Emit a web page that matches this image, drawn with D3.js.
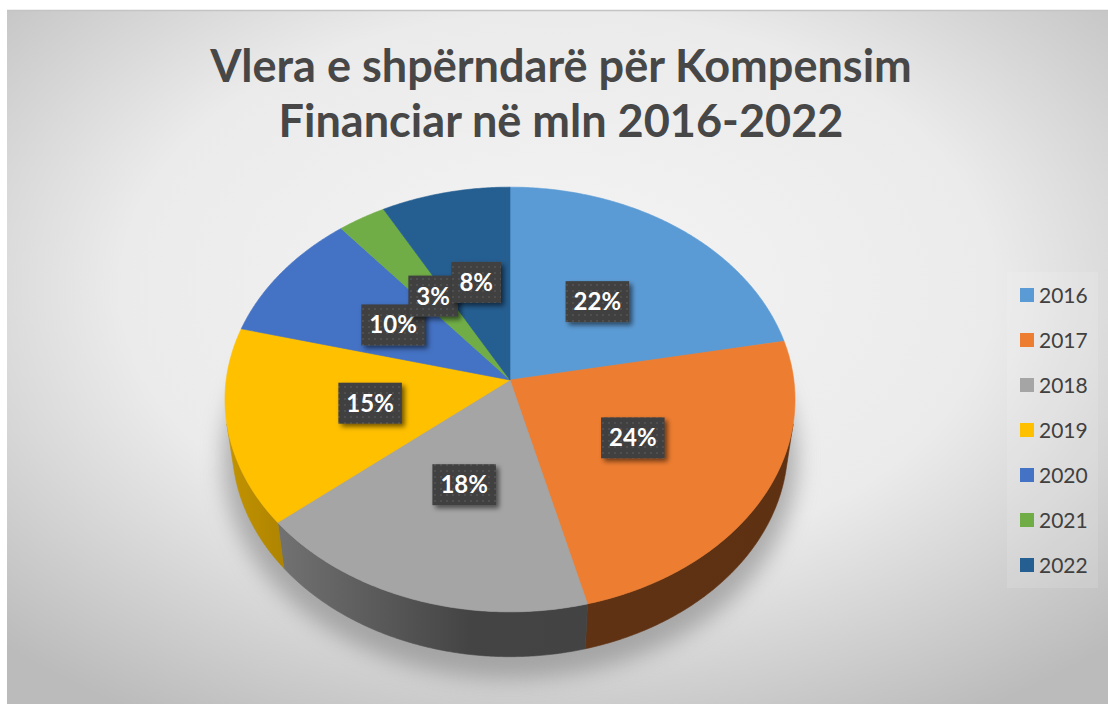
<!DOCTYPE html>
<html><head><meta charset="utf-8">
<script src="https://cdn.jsdelivr.net/npm/d3@7"></script>
<style>html,body{margin:0;padding:0;background:#fff;overflow:hidden}</style>
</head>
<body>
<svg id="c" width="1108" height="704"></svg>
<script>
const titleLines = ["Vlera e shpërndarë për Kompensim", "Financiar në mln 2016-2022"];
const years = ["2016", "2017", "2018", "2019", "2020", "2021", "2022"];
const shares = [22, 24, 18, 15, 10, 3, 8];
const labels = ["22%", "24%", "18%", "15%", "10%", "3%", "8%"];
const colors = ["#5B9BD5", "#ED7D31", "#A5A5A5", "#FFC000", "#4472C4", "#70AD47", "#255E91"];

const svg = d3.select("#c");
const defs = svg.append("defs");

// background
const bg = defs.append("radialGradient").attr("id", "bg")
  .attr("cx", "50%").attr("cy", "40%").attr("r", "72%");
bg.append("stop").attr("offset", "0").attr("stop-color", "#f4f4f4");
bg.append("stop").attr("offset", "0.55").attr("stop-color", "#ebebeb");
bg.append("stop").attr("offset", "1").attr("stop-color", "#bbbbbb");
svg.append("rect").attr("x", 7).attr("y", 10).attr("width", 1101).attr("height", 694)
  .attr("fill", "url(#bg)");
svg.append("line").attr("x1", 7).attr("x2", 1108).attr("y1", 10.5).attr("y2", 10.5)
  .attr("stroke", "#c4c4c4").attr("stroke-width", 1.5);

// filters
const blur = defs.append("filter").attr("id", "blur").attr("x", "-30%").attr("y", "-30%").attr("width", "160%").attr("height", "160%");
blur.append("feGaussianBlur").attr("stdDeviation", 11);
const ds = defs.append("filter").attr("id", "ds").attr("x", "-30%").attr("y", "-30%").attr("width", "170%").attr("height", "170%");
ds.append("feDropShadow").attr("dx", 3).attr("dy", 3).attr("stdDeviation", 2.5)
  .attr("flood-color", "#000").attr("flood-opacity", 0.55);
const pat = defs.append("pattern").attr("id", "dots").attr("patternUnits", "userSpaceOnUse")
  .attr("width", 6).attr("height", 6);
pat.append("rect").attr("width", 6).attr("height", 6).attr("fill", "#3f3f3f");
pat.append("circle").attr("cx", 3).attr("cy", 3).attr("r", 0.9).attr("fill", "#575757");

// 3D perspective projection of the pie
const cx = 510, cy = 380, K = 283.8, sinP = 0.742, cosP = Math.sqrt(1 - sinP * sinP), dd = 7.3, hh = 0.251;
function proj(theta, rr, y) {
  const x = rr * Math.sin(theta), z = rr * Math.cos(theta);
  const den = 1 - y * sinP / dd + z * cosP / dd;
  return [cx + K * x / den, cy - K * (y * cosP + z * sinP) / den];
}
function arcPts(a0, a1, rr, y) {
  const n = Math.max(2, Math.ceil(Math.abs(a1 - a0) / (Math.PI / 360)));
  return d3.range(n + 1).map(i => proj(a0 + (a1 - a0) * i / n, rr, y));
}
const line = d3.line();

const pie = d3.pie().sort(null).value(d => d).startAngle(0).endAngle(2 * Math.PI);
const arcs = pie(shares);

// shadow
const shadowG = svg.append("g").attr("filter", "url(#blur)").attr("opacity", 0.55);
shadowG.append("path")
  .attr("d", line(arcPts(0, 2 * Math.PI, 1.035, -hh - 0.03)) + "Z")
  .attr("transform", "translate(0,8)")
  .attr("fill", "#7a7a7a");

// side faces (visible front part)
const thS = Math.acos(-1 / (dd * cosP)), thE = 2 * Math.PI - thS;
const darkStops = [[215, 0.7], [290, 1.1], [470, 2.5], [810, 2.6]];
arcs.forEach((a, i) => {
  const s = Math.max(a.startAngle, thS), e = Math.min(a.endAngle, thE);
  if (e <= s) return;
  const g = defs.append("linearGradient").attr("id", "side" + i)
    .attr("gradientUnits", "userSpaceOnUse").attr("x1", 215).attr("x2", 810).attr("y1", 0).attr("y2", 0);
  darkStops.forEach(([x, k]) => g.append("stop").attr("offset", (x - 215) / (810 - 215))
    .attr("stop-color", d3.color(colors[i]).darker(k).formatHex()));
  const top = arcPts(s, e, 1, 0), bot = arcPts(s, e, 1, -hh).reverse();
  svg.append("path").attr("d", line(top.concat(bot)) + "Z")
    .attr("fill", `url(#side${i})`).attr("stroke", `url(#side${i})`).attr("stroke-width", 0.6);
});

// top faces
arcs.forEach((a, i) => {
  const pts = [proj(0, 0, 0)].concat(arcPts(a.startAngle, a.endAngle, 1, 0));
  svg.append("path").attr("d", line(pts) + "Z")
    .attr("fill", colors[i]).attr("stroke", colors[i]).attr("stroke-width", 0.6);
});

// data labels
arcs.forEach((a, i) => {
  const [lx, ly] = proj((a.startAngle + a.endAngle) / 2, 0.5, 0);
  const g = svg.append("g");
  const t = g.append("text").attr("x", lx).attr("y", ly + 8.5).attr("text-anchor", "middle")
    .attr("font-family", "Lato, 'Open Sans', sans-serif").attr("font-weight", 700)
    .attr("font-size", 24).attr("fill", "#ffffff").text(labels[i]);
  const w = t.node().getComputedTextLength() + 16, h = 41;
  g.insert("rect", "text").attr("x", lx - w / 2).attr("y", ly - h / 2).attr("width", w).attr("height", h)
    .attr("fill", "url(#dots)").attr("filter", "url(#ds)");
});

// legend
svg.append("rect").attr("x", 1007).attr("y", 272).attr("width", 91).attr("height", 316)
  .attr("fill", "#ffffff").attr("opacity", 0.12);
years.forEach((yv, i) => {
  const yy = 295 + i * 45;
  svg.append("rect").attr("x", 1020).attr("y", yy - 7).attr("width", 14).attr("height", 14).attr("fill", colors[i]);
  svg.append("text").attr("x", 1039).attr("y", yy + 7.5)
    .attr("font-family", "Lato, 'Open Sans', sans-serif").attr("font-size", 21)
    .attr("fill", "#404040").text(yv);
});

// title
const tt = svg.append("text").attr("text-anchor", "middle")
  .attr("font-family", "Lato, 'Open Sans', sans-serif").attr("font-weight", 700)
  .attr("fill", "#474747").attr("font-size", 40);
const t1 = tt.append("tspan").attr("x", 561).attr("y", 82).text(titleLines[0]);
const t2 = tt.append("tspan").attr("x", 561).attr("y", 137).text(titleLines[1]);
const w1 = t1.node().getComputedTextLength();
tt.attr("font-size", 40 * 702 / w1);
</script>
</body></html>
